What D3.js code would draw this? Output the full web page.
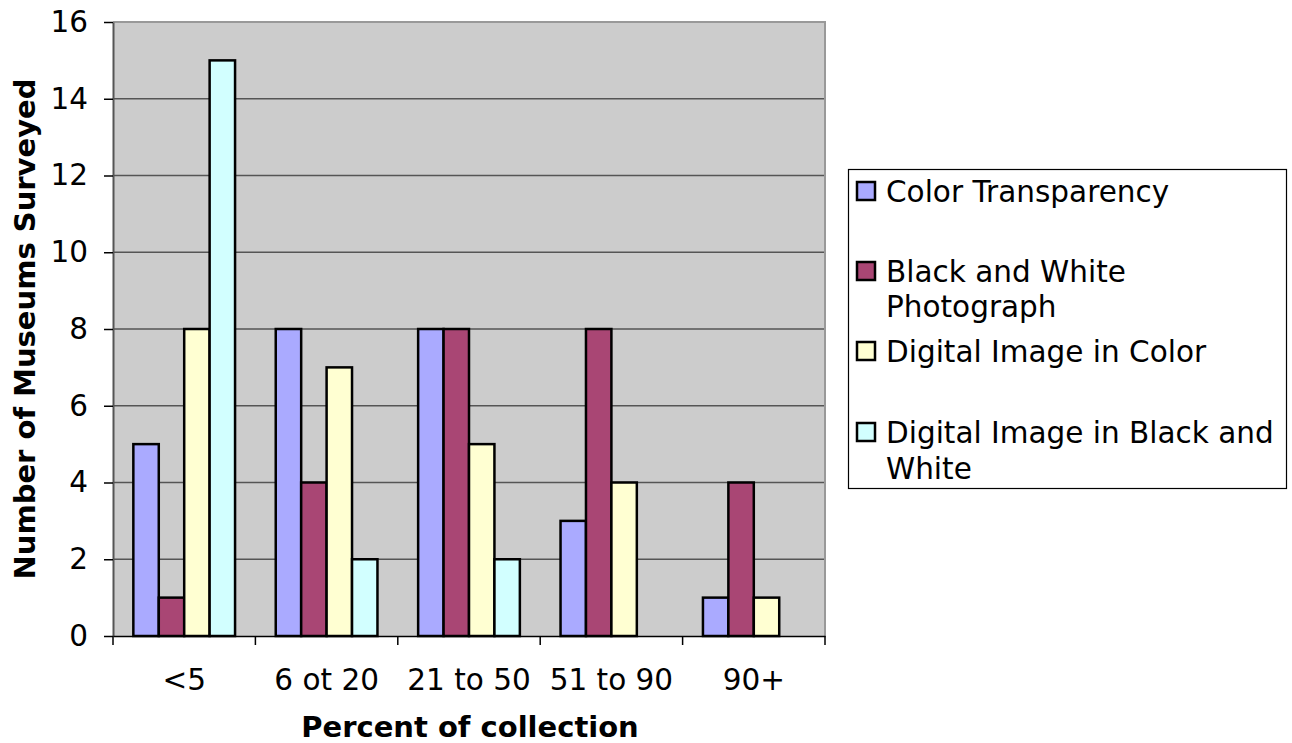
<!DOCTYPE html>
<html><head><meta charset="utf-8">
<script src="https://cdn.jsdelivr.net/npm/d3@7"></script>
<style>body{margin:0;background:#fff}svg{display:block}</style>
</head><body>
<svg id="c" width="1292" height="743"></svg>
<script>
const categories = ["<5", "6 ot 20", "21 to 50", "51 to 90", "90+"];
const seriesNames = ["Color Transparency", "Black and White Photograph", "Digital Image in Color", "Digital Image in Black and White"];
const colorTransparency = [5, 8, 8, 3, 1];
const bwPhotograph = [1, 4, 8, 8, 4];
const digitalColor = [8, 7, 5, 4, 1];
const digitalBW = [15, 2, 2, 0, 0];
const yTicks = [0, 2, 4, 6, 8, 10, 12, 14, 16];
const legendLines = [["Color Transparency"], ["Black and White", "Photograph"], ["Digital Image in Color"], ["Digital Image in Black and", "White"]];
const colors = ["#aaaaff", "#a94674", "#ffffd2", "#d2ffff"];

const series = [colorTransparency, bwPhotograph, digitalColor, digitalBW];
const svg = d3.select("#c");
const font = "'DejaVu Sans', Verdana, sans-serif";
const fs = 29.5;
const L = 113, R = 825, T = 22, B = 636;

const x = d3.scaleBand().domain(categories).range([L, R]).paddingInner(0).paddingOuter(0);
const xs = d3.scaleBand().domain(d3.range(4)).range([0, x.bandwidth()]).paddingInner(0).paddingOuter(0.8);
const y = d3.scaleLinear().domain([0, 16]).range([B, T]);

svg.append("rect").attr("x", L).attr("y", T).attr("width", R - L).attr("height", B - T).attr("fill", "#cccccc");
svg.append("g").selectAll("line").data(yTicks.slice(1, -1)).join("line")
  .attr("x1", L).attr("x2", R).attr("y1", d => y(d)).attr("y2", d => y(d))
  .attr("stroke", "#555").attr("stroke-width", 1.5);
svg.append("path").attr("d", `M${L},${T}H${R}V${B}`).attr("fill", "none").attr("stroke", "#999").attr("stroke-width", 2);

const data = [];
categories.forEach((c, i) => series.forEach((s, j) => data.push({c, j, v: s[i]})));
svg.append("g").selectAll("rect").data(data.filter(d => d.v > 0)).join("rect")
  .attr("x", d => x(d.c) + xs(d.j))
  .attr("width", xs.bandwidth())
  .attr("y", d => y(d.v))
  .attr("height", d => y(0) - y(d.v))
  .attr("fill", d => colors[d.j])
  .attr("stroke", "#000").attr("stroke-width", 2.5);

const yAxis = d3.axisLeft(y).tickValues(yTicks).tickSize(9).tickPadding(16).tickSizeOuter(0);
const gy = svg.append("g").attr("transform", `translate(${L},0)`).call(yAxis);
gy.select(".domain").attr("stroke", "#555").attr("stroke-width", 2);
gy.selectAll(".tick line").attr("stroke", "#000").attr("stroke-width", 1.5);
gy.selectAll("text").attr("font-family", font).attr("font-size", fs).attr("fill", "#000");

const xAxis = d3.axisBottom(x).tickSize(0).tickPadding(33).tickSizeOuter(0);
const gx = svg.append("g").attr("transform", `translate(0,${B})`).call(xAxis);
gx.select(".domain").attr("stroke", "#000").attr("stroke-width", 1.5);
gx.selectAll("text").attr("font-family", font).attr("font-size", fs).attr("fill", "#000");
svg.append("g").selectAll("line").data(categories.concat(["end"])).join("line")
  .attr("x1", (d, i) => i < categories.length ? x(d) : R)
  .attr("x2", (d, i) => i < categories.length ? x(d) : R)
  .attr("y1", B).attr("y2", B + 9).attr("stroke", "#000").attr("stroke-width", 1.5);

svg.append("text").attr("x", 470).attr("y", 737).attr("text-anchor", "middle")
  .attr("font-family", font).attr("font-size", 29).attr("font-weight", "bold").text("Percent of collection");
svg.append("text").attr("transform", `translate(35,${(T + B) / 2}) rotate(-90)`).attr("text-anchor", "middle")
  .attr("font-family", font).attr("font-size", 29).attr("font-weight", "bold").text("Number of Museums Surveyed");

const lg = svg.append("g");
lg.append("rect").attr("x", 848.5).attr("y", 169.5).attr("width", 438).attr("height", 319)
  .attr("fill", "#fff").attr("stroke", "#000").attr("stroke-width", 1.2);
const baselines = [[202], [282, 317], [362], [443, 479]];
legendLines.forEach((lines, i) => {
  lg.append("rect").attr("x", 857).attr("y", baselines[i][0] - 20).attr("width", 18).attr("height", 18)
    .attr("fill", colors[i]).attr("stroke", "#000").attr("stroke-width", 2.5);
  lines.forEach((t, k) => {
    lg.append("text").attr("x", 886).attr("y", baselines[i][k]).attr("font-family", font)
      .attr("font-size", fs).text(t);
  });
});
</script>
</body></html>
